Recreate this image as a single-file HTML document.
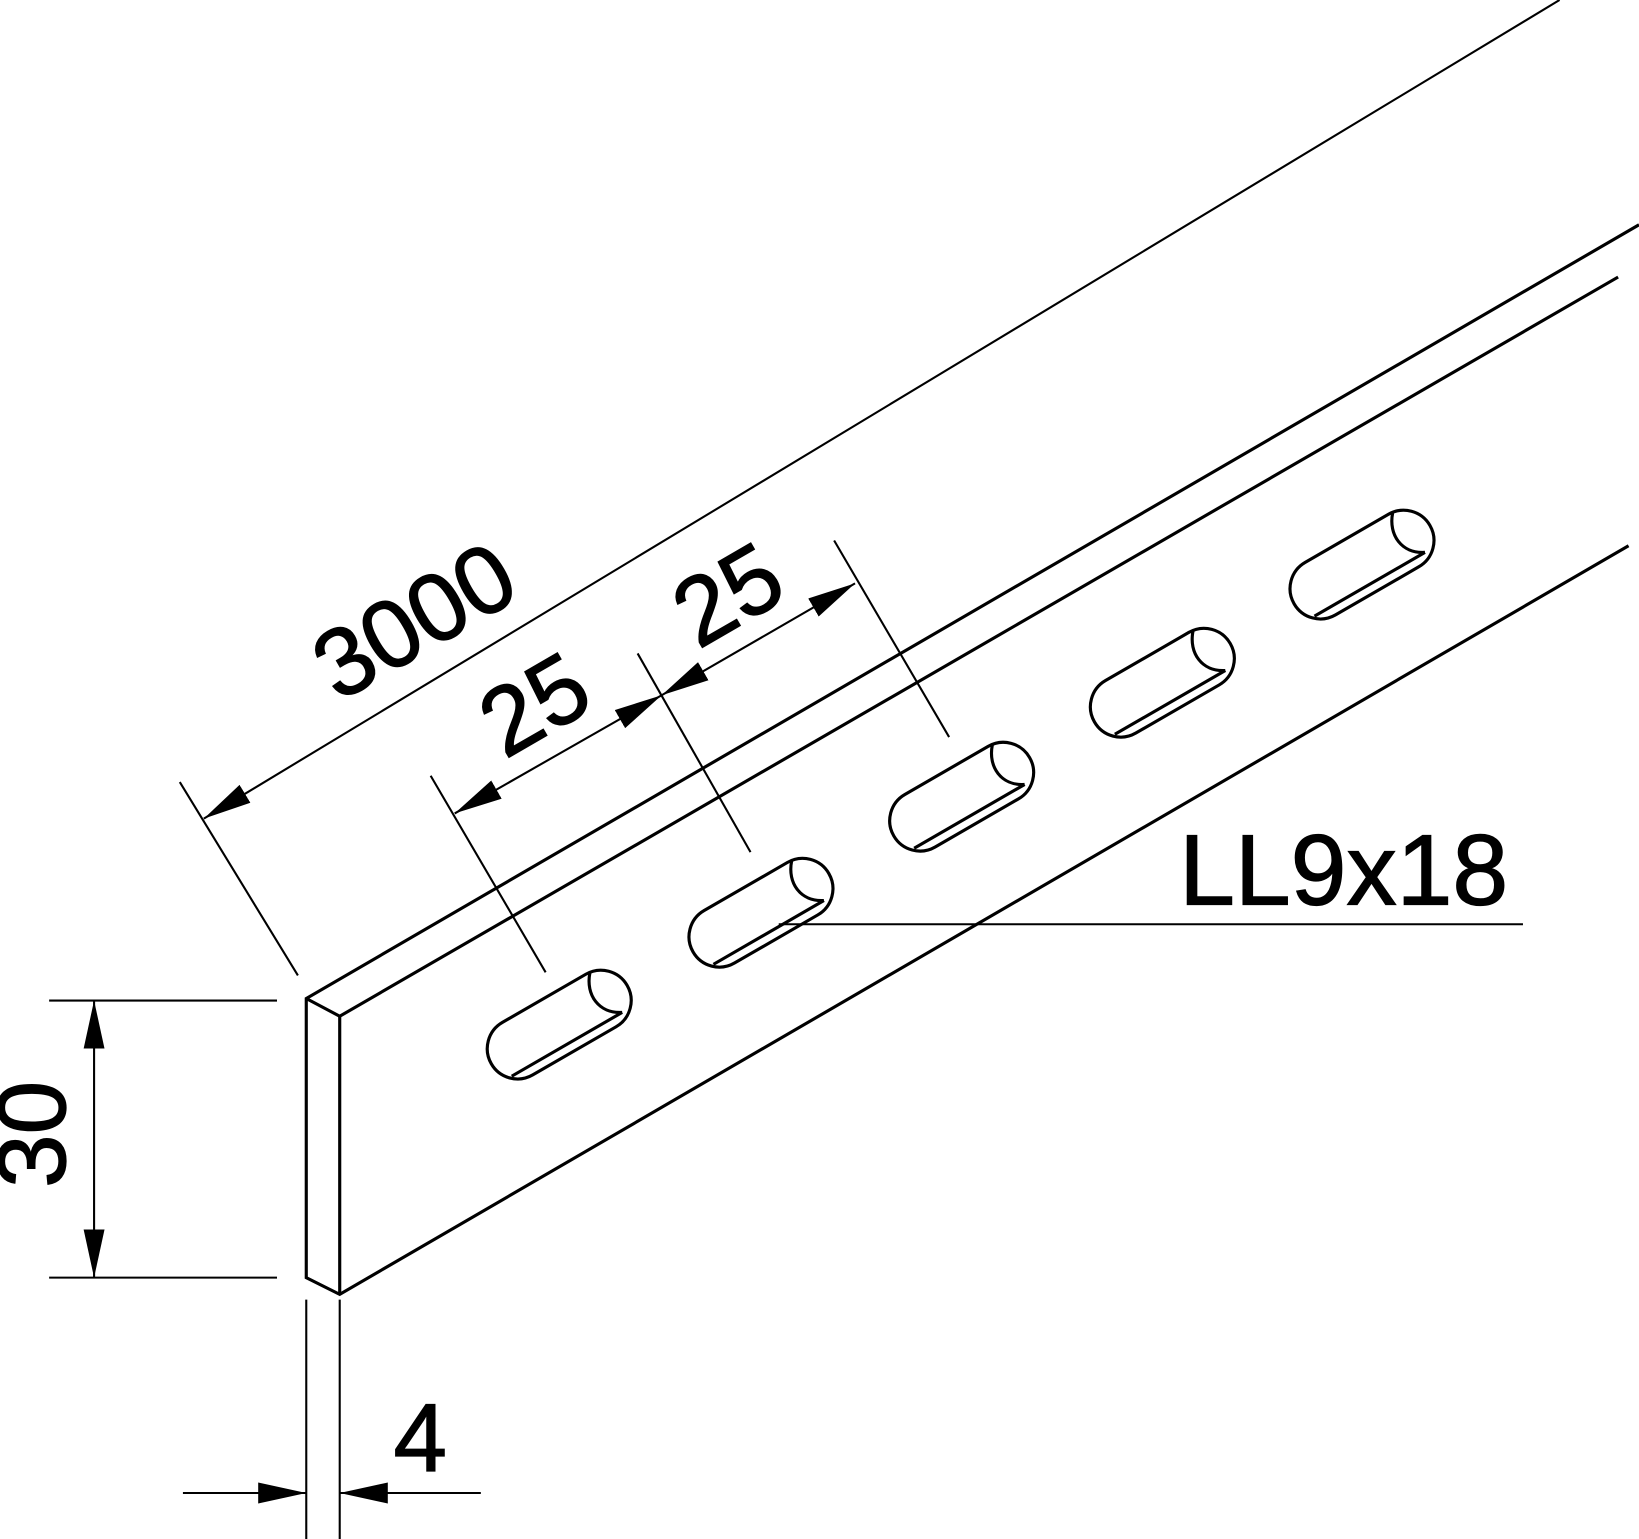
<!DOCTYPE html>
<html><head><meta charset="utf-8"><style>
html,body{margin:0;padding:0;background:#fff;}
svg{display:block;}
text{font-family:"Liberation Sans",sans-serif;fill:#000;stroke:#000;stroke-width:1.2;}
</style></head><body>
<svg width="1639" height="1539" viewBox="0 0 1568 1472" preserveAspectRatio="none" xmlns="http://www.w3.org/2000/svg">
<defs>
<marker id="a" viewBox="0 0 46 20" refX="46" refY="10" markerWidth="46" markerHeight="20" markerUnits="userSpaceOnUse" orient="auto-start-reverse">
<path d="M0,0 L46,10 L0,20 Z" fill="#000"/>
</marker>
<g id="slot">
<rect x="-75" y="-29" width="150" height="58" rx="29" ry="29" fill="none" stroke="#000" stroke-width="3"/>
<line x1="-64" y1="20" x2="58" y2="20" stroke="#000" stroke-width="3"/>
<path d="M50,-28 C36,-12 38,10 58,20" fill="none" stroke="#000" stroke-width="3"/>
</g>
</defs>
<g stroke="#000" stroke-width="3" fill="none">
<polyline points="1568,215 293,955 293,1222 325,1238 1558,522"/>
<polyline points="293,955 325,972 1548,265"/>
<line x1="325" y1="972" x2="325" y2="1238"/>
<line x1="172" y1="748" x2="285" y2="933" stroke-width="2"/>
<line x1="195" y1="783" x2="1492" y2="0" stroke-width="2" marker-start="url(#a)"/>
<line x1="412" y1="742" x2="522" y2="930" stroke-width="2"/>
<line x1="610" y1="625" x2="718" y2="815" stroke-width="2"/>
<line x1="798" y1="517" x2="908" y2="705" stroke-width="2"/>
<line x1="435" y1="778" x2="633" y2="665" stroke-width="2" marker-start="url(#a)" marker-end="url(#a)"/>
<line x1="633" y1="665" x2="818" y2="558" stroke-width="2" marker-start="url(#a)" marker-end="url(#a)"/>
<line x1="745" y1="884" x2="1457" y2="884" stroke-width="2"/>
<line x1="47" y1="957" x2="265" y2="957" stroke-width="2"/>
<line x1="47" y1="1222" x2="265" y2="1222" stroke-width="2"/>
<line x1="90" y1="957" x2="90" y2="1222" stroke-width="2" marker-start="url(#a)" marker-end="url(#a)"/>
<line x1="293" y1="1243" x2="293" y2="1472" stroke-width="2"/>
<line x1="325" y1="1243" x2="325" y2="1472" stroke-width="2"/>
<line x1="175" y1="1428" x2="293" y2="1428" stroke-width="2" marker-end="url(#a)"/>
<line x1="460" y1="1428" x2="325" y2="1428" stroke-width="2" marker-end="url(#a)"/>
</g>
<use href="#slot" transform="translate(535,980) rotate(-30)"/>
<use href="#slot" transform="translate(728,873) rotate(-30)"/>
<use href="#slot" transform="translate(920,762) rotate(-30)"/>
<use href="#slot" transform="translate(1112,653) rotate(-30)"/>
<use href="#slot" transform="translate(1303,540) rotate(-30)"/>
<text transform="translate(400,600) rotate(-30)" font-size="92" text-anchor="middle" dominant-baseline="middle">3000</text>
<text transform="translate(515,680) rotate(-30)" font-size="92" text-anchor="middle" dominant-baseline="middle">25</text>
<text transform="translate(700,575) rotate(-30)" font-size="92" text-anchor="middle" dominant-baseline="middle">25</text>
<text x="1128" y="865" font-size="96">LL9x18</text>
<text transform="translate(38,1085) rotate(-90)" font-size="92" text-anchor="middle" dominant-baseline="middle">30</text>
<text x="402" y="1407" font-size="92" text-anchor="middle">4</text>
</svg>
</body></html>
